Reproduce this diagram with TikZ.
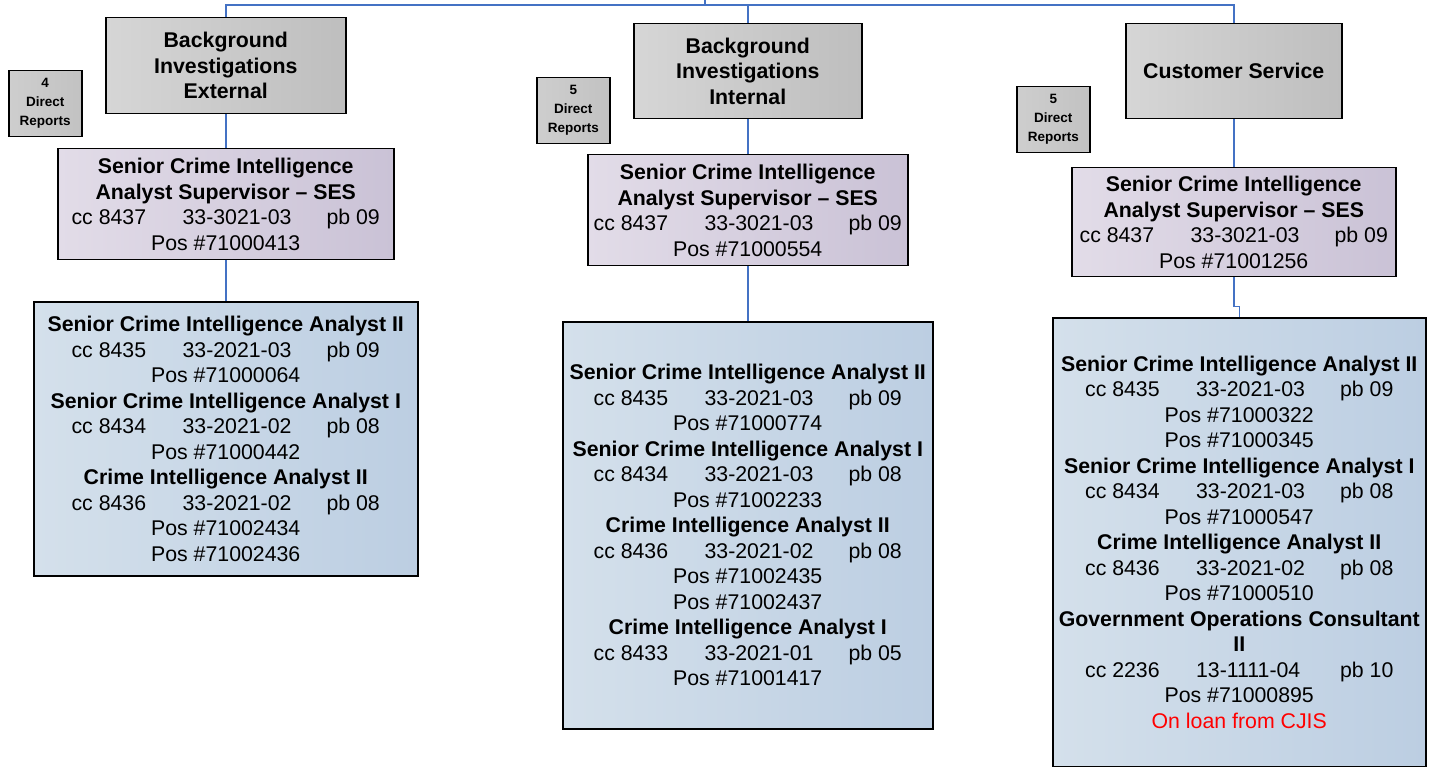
\documentclass[tikz,border=0pt]{standalone}
\usepackage{fontspec}
\setmainfont{Liberation Sans}
\newcommand\tabrow[3]{\makebox[111pt][l]{#1}\makebox[144pt][l]{#2}#3}
\begin{document}
\begin{tikzpicture}[x=1pt,y=-1pt,
  box/.style={draw=black,line width=1.5pt,anchor=north west,inner sep=0pt,
    align=center,font=\fontsize{21.3}{25.5}\selectfont},
  unitbox/.style={box,left color={rgb,255:red,214;green,214;blue,214},right color={rgb,255:red,190;green,190;blue,190}},
  supbox/.style={box,left color={rgb,255:red,226;green,220;blue,232},right color={rgb,255:red,202;green,194;blue,214}},
  staffbox/.style={box,left color={rgb,255:red,212;green,224;blue,235},right color={rgb,255:red,188;green,206;blue,226}},
  countbox/.style={box,left color={rgb,255:red,206;green,206;blue,206},right color={rgb,255:red,194;green,194;blue,194},
    font=\fontsize{13.5}{19}\selectfont\bfseries},
  link/.style={draw={rgb,255:red,68;green,114;blue,196},line width=1.5pt}]
\useasboundingbox (0,0) rectangle (1429,767);

% unit headings
\node[unitbox,minimum width=240,minimum height=96] (b1) at (105,17)
  {\bfseries Background\\\bfseries Investigations\\\bfseries External};
\node[unitbox,minimum width=228,minimum height=95] (b2) at (633,23)
  {\bfseries Background\\\bfseries Investigations\\\bfseries Internal};
\node[unitbox,minimum width=216,minimum height=95] (b3) at (1125,23)
  {\bfseries Customer Service};

% direct report counts
\node[countbox,minimum width=73,minimum height=66] (d1) at (8,70) {4\\Direct\\Reports};
\node[countbox,minimum width=73,minimum height=66] (d2) at (536,77) {5\\Direct\\Reports};
\node[countbox,minimum width=73,minimum height=66] (d3) at (1016,86) {5\\Direct\\Reports};

% supervisors
\node[supbox,minimum width=336,minimum height=111] (s1) at (57,148)
  {\bfseries Senior Crime Intelligence\\\bfseries Analyst Supervisor -- SES\\
   \tabrow{cc 8437}{33-3021-03}{pb 09}\\Pos \#71000413};
\node[supbox,minimum width=320,minimum height=111] (s2) at (587,154)
  {\bfseries Senior Crime Intelligence\\\bfseries Analyst Supervisor -- SES\\
   \tabrow{cc 8437}{33-3021-03}{pb 09}\\Pos \#71000554};
\node[supbox,minimum width=324,minimum height=109] (s3) at (1071,167)
  {\bfseries Senior Crime Intelligence\\\bfseries Analyst Supervisor -- SES\\
   \tabrow{cc 8437}{33-3021-03}{pb 09}\\Pos \#71001256};

% staff
\node[staffbox,minimum width=384,minimum height=274] (a1) at (33,301)
  {\bfseries Senior Crime Intelligence Analyst II\\
   \tabrow{cc 8435}{33-2021-03}{pb 09}\\Pos \#71000064\\
   \bfseries Senior Crime Intelligence Analyst I\\
   \tabrow{cc 8434}{33-2021-02}{pb 08}\\Pos \#71000442\\
   \bfseries Crime Intelligence Analyst II\\
   \tabrow{cc 8436}{33-2021-02}{pb 08}\\Pos \#71002434\\Pos \#71002436};
\node[staffbox,minimum width=370,minimum height=407] (a2) at (562,321)
  {\bfseries Senior Crime Intelligence Analyst II\\
   \tabrow{cc 8435}{33-2021-03}{pb 09}\\Pos \#71000774\\
   \bfseries Senior Crime Intelligence Analyst I\\
   \tabrow{cc 8434}{33-2021-03}{pb 08}\\Pos \#71002233\\
   \bfseries Crime Intelligence Analyst II\\
   \tabrow{cc 8436}{33-2021-02}{pb 08}\\Pos \#71002435\\Pos \#71002437\\
   \bfseries Crime Intelligence Analyst I\\
   \tabrow{cc 8433}{33-2021-01}{pb 05}\\Pos \#71001417};
\node[staffbox,minimum width=373,minimum height=449] (a3) at (1052,317)
  {\bfseries Senior Crime Intelligence Analyst II\\
   \tabrow{cc 8435}{33-2021-03}{pb 09}\\Pos \#71000322\\Pos \#71000345\\
   \bfseries Senior Crime Intelligence Analyst I\\
   \tabrow{cc 8434}{33-2021-03}{pb 08}\\Pos \#71000547\\
   \bfseries Crime Intelligence Analyst II\\
   \tabrow{cc 8436}{33-2021-02}{pb 08}\\Pos \#71000510\\
   \bfseries Government Operations Consultant\\\bfseries II\\
   \tabrow{cc 2236}{13-1111-04}{pb 10}\\Pos \#71000895\\
   \color{red}On loan from CJIS};

% reporting lines
\coordinate (root) at (705,0);
\coordinate (bus) at (705,5);
\draw[link] (root) -- (bus);
\draw[link] (b1.north) |- (bus);
\draw[link] (b2.north) |- (bus);
\draw[link] (b3.north) |- (bus);
\draw[link] (b1.south) -- (s1.north);
\draw[link] (s1.south) -- (a1.north);
\draw[link] (b2.south) -- (s2.north);
\draw[link] (s2.south) -- (a2.north);
\draw[link] (b3.south) -- (s3.north);
\draw[link] (s3.south) -- ++(0,29) -| (a3.north);
\end{tikzpicture}
\end{document}
